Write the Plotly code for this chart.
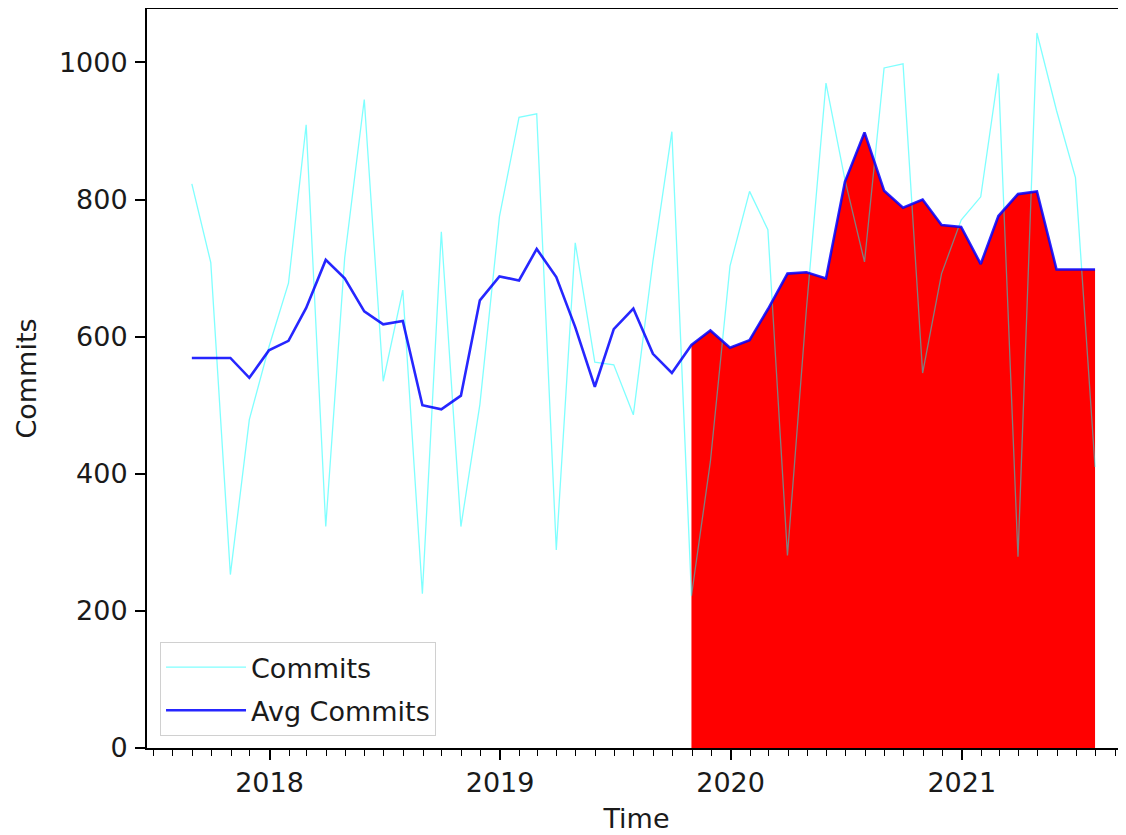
import pandas as pd
import plotly.graph_objects as go

# Monthly dates (month end), Aug 2017 .. Jul 2021
dates = pd.date_range("2017-08-31", periods=48, freq="ME")

commits = [823, 708, 253, 479, 585, 678, 909, 323, 715, 946, 535, 668,
           225, 753, 323, 501, 775, 920, 925, 289, 737, 563, 559, 486,
           710, 899, 222, 418, 703, 812, 756, 281, 640, 970, 829, 709,
           992, 998, 547, 692, 770, 804, 984, 279, 1043, 930, 832, 410]

avg_commits = [569, 569, 569, 540, 580, 594, 642, 712, 685, 637, 618, 623,
               500, 494, 514, 653, 688, 682, 728, 687, 614, 527, 611, 641,
               575, 547, 588, 609, 584, 595, 640, 692, 694, 685, 826, 898,
               813, 788, 800, 763, 760, 706, 776, 808, 812, 698, 698, 698]

highlight_start = 26  # first month of the filled region (Oct 2019)

FONT = "DejaVu Sans"
TXT = "#1a1a1a"
FS = 27

fig = go.Figure()

fig.add_trace(go.Scatter(
    x=dates[highlight_start:], y=avg_commits[highlight_start:],
    mode="lines", fill="tozeroy", fillcolor="#ff0000",
    line=dict(width=0, color="#ff0000"), showlegend=False, hoverinfo="skip",
))
fig.add_trace(go.Scatter(
    x=dates, y=commits, mode="lines", name="Commits", legendgroup="a",
    line=dict(color="rgba(0,255,255,0.5)", width=1.3),
))
fig.add_trace(go.Scatter(
    x=dates, y=avg_commits, mode="lines", name="Avg Commits", legendgroup="b",
    line=dict(color="rgba(0,0,255,0.85)", width=2.6),
))

fig.update_layout(
    width=1118, height=827,
    margin=dict(l=139, r=0, t=1, b=87, pad=0),
    paper_bgcolor="white", plot_bgcolor="white",
    font=dict(family=FONT, size=FS, color=TXT),
    showlegend=True,
    legend=dict(
        x=0.0133, y=0.0162, xanchor="left", yanchor="bottom",
        bgcolor="rgba(255,255,255,0.85)", bordercolor="#d0d0d0", borderwidth=1,
        font=dict(family=FONT, size=FS, color=TXT),
        itemwidth=80, traceorder="grouped", tracegroupgap=5,
    ),
)

fig.update_xaxes(
    type="date",
    range=["2017-06-21", "2021-09-18"],
    title=dict(text="Time", font=dict(family=FONT, size=FS, color=TXT), standoff=12),
    tickformat="%Y", dtick="M12", tick0="2018-01-01",
    ticks="outside", ticklen=10, tickwidth=1.8, tickcolor="black",
    tickfont=dict(family=FONT, size=FS, color=TXT),
    minor=dict(dtick="M1", tick0="2017-01-01", ticks="outside", ticklen=6,
               tickwidth=1.4, tickcolor="black", showgrid=False),
    showline=True, linewidth=2, linecolor="black", mirror=True,
    showgrid=False, zeroline=False,
)

fig.update_yaxes(
    range=[0, 1078], dtick=200, tick0=0,
    title=dict(text="Commits", font=dict(family=FONT, size=FS, color=TXT), standoff=14),
    ticks="outside", ticklen=10, tickwidth=1.8, tickcolor="black",
    tickfont=dict(family=FONT, size=FS, color=TXT), ticklabelstandoff=2,
    showline=True, linewidth=2, linecolor="black", mirror=False,
    showgrid=False, zeroline=False,
)

fig.write_html("out.html")
